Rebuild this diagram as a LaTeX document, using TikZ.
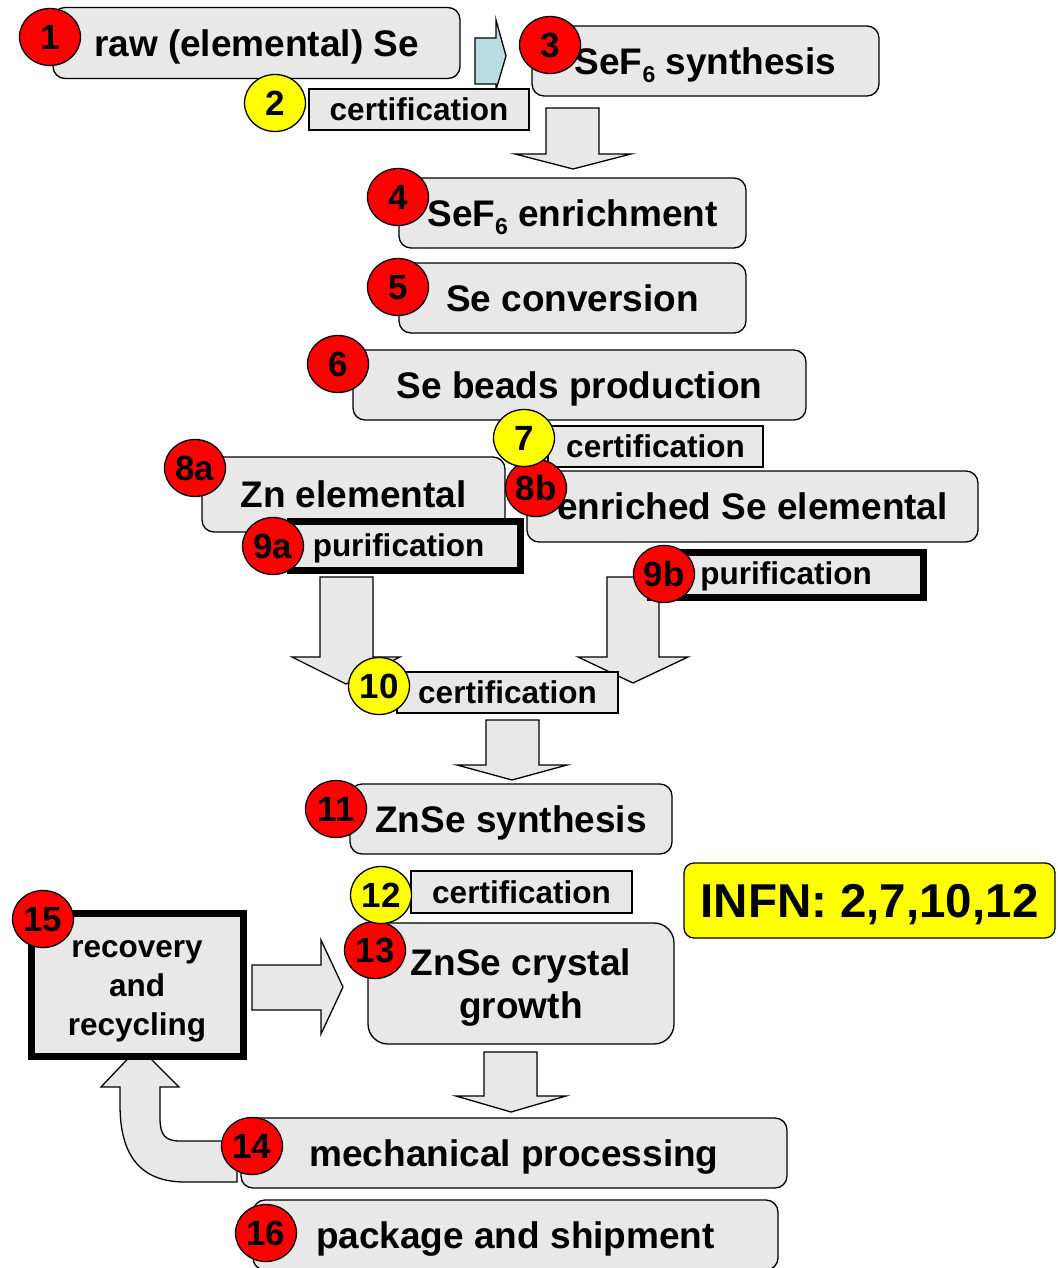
\documentclass[tikz,border=0pt]{standalone}
\usepackage{fontspec}
\setmainfont{Liberation Sans}
\usetikzlibrary{shapes.geometric}
\definecolor{boxgray}{RGB}{232,232,232}
\definecolor{badgered}{RGB}{255,0,0}
\definecolor{badgeyellow}{RGB}{255,255,0}
\definecolor{arrowcyan}{RGB}{185,222,226}
\newcommand\fbig{\fontsize{37}{44}\selectfont\bfseries}
\newcommand\fsmall{\fontsize{31.5}{39}\selectfont\bfseries}
\newcommand\fbadge{\fontsize{35}{35}\selectfont\bfseries}
\newcommand\finfn{\fontsize{47.5}{50}\selectfont\bfseries}
\newcommand\subsix{\raisebox{-8pt}{\fontsize{23}{23}\selectfont 6}}
\begin{document}
\begin{tikzpicture}[x=1pt,y=-1pt,
  box/.style={draw=black, line width=1.3pt, fill=boxgray, rounded corners=12pt, inner sep=0pt, text height=26.5pt, text depth=0pt, font=\fbig},
  cert/.style={draw=black, line width=1.3pt, fill=boxgray, inner sep=0pt, text height=22.5pt, text depth=0pt, font=\fsmall},
  thickbox/.style={draw=black, line width=7pt, fill=boxgray, inner sep=0pt},
  txtbig/.style={inner sep=0pt, anchor=base, font=\fbig},
  txtsmall/.style={inner sep=0pt, anchor=base, font=\fsmall},
  badge/.style={ellipse, draw=black, line width=1.3pt, minimum width=61pt, minimum height=57pt, inner sep=0pt, font=\fbadge, text height=25pt, text depth=0pt},
  redb/.style={badge, fill=badgered},
  yelb/.style={badge, fill=badgeyellow},
  blockarrow/.style={draw=black, line width=1.3pt, fill=boxgray, line join=miter},
]
\useasboundingbox (0,0) rectangle (1057,1268);
\clip (0,0) rectangle (1057,1268);

% ---------- block arrows ----------
\draw[blockarrow, fill=arrowcyan] (475,38) -- (496,38) -- (496,20) -- (506,56) -- (496,90) -- (496,84) -- (475,84) -- cycle;
\draw[blockarrow] (546,108) -- (599,108) -- (599,154) -- (631,154) -- (573,169) -- (515,154) -- (546,154) -- cycle;
\draw[blockarrow] (320,577) -- (373,577) -- (373,657) -- (400,657) -- (346,684) -- (292,657) -- (320,657) -- cycle;
\draw[blockarrow] (607,577) -- (659,577) -- (659,657) -- (688,657) -- (633,683) -- (578,657) -- (607,657) -- cycle;
\draw[blockarrow] (486,720) -- (539,720) -- (539,765) -- (567,765) -- (512,780) -- (457,765) -- (486,765) -- cycle;
\draw[blockarrow] (484,1052) -- (537,1052) -- (537,1096) -- (566,1096) -- (511,1112) -- (456,1096) -- (484,1096) -- cycle;
\draw[blockarrow] (252,965) -- (321,965) -- (321,940) -- (343,987) -- (321,1034) -- (321,1010) -- (252,1010) -- cycle;
\draw[blockarrow] (139,1047) -- (179,1087) -- (160,1087) -- (160,1118) .. controls (160,1135) and (165,1141) .. (180,1141) -- (237,1141) -- (237,1182) -- (185,1182) .. controls (140,1182) and (120,1155) .. (120,1105) -- (120,1087) -- (101,1087) -- cycle;

% ---------- process boxes ----------
\node[box, minimum width=407pt, minimum height=71pt] (b1) at (256.5,43) {raw (elemental) Se};
\node[box, minimum width=347pt, minimum height=70pt] (b3) at (705.5,61) {SeF\subsix{} synthesis};
\node[box, minimum width=347pt, minimum height=70pt] (b4) at (572.5,213) {SeF\subsix{} enrichment};
\node[box, minimum width=347pt, minimum height=70pt] (b5) at (572.5,298) {Se conversion};
\node[box, minimum width=453pt, minimum height=70pt] (b6) at (579.5,385) {Se beads production};
\node[box, minimum width=303pt, minimum height=75pt] (b8a) at (353.5,494.5) {Zn elemental};
\node[box, minimum width=451pt, minimum height=71pt] (b8b) at (752.5,506.5) {enriched Se elemental};
\node[box, minimum width=322pt, minimum height=70pt] (b11) at (511,819) {ZnSe synthesis};
\node[box, rounded corners=20pt, minimum width=306pt, minimum height=121pt] (b13) at (521,983.5) {};
\node[txtbig] (t13a) at (521,975) {ZnSe crystal};
\node[txtbig] (t13b) at (521,1018) {growth};
\node[box, minimum width=546pt, minimum height=70pt] (b14) at (514,1153) {mechanical processing};
\node[box, minimum width=525pt, minimum height=70pt] (b16) at (515.5,1235) {package and shipment};
\node[box, fill=badgeyellow, rounded corners=10pt, minimum width=371pt, minimum height=75pt, font=\finfn, text height=34pt] (infn) at (869.5,900.5) {INFN: 2,7,10,12};

% ---------- certification / purification ----------
\node[cert, minimum width=220pt, minimum height=41pt] (c2) at (419,109.5) {certification};
\node[cert, minimum width=215pt, minimum height=41pt] (c7) at (655.5,446.5) {certification};
\node[cert, minimum width=221pt, minimum height=41pt] (c10) at (507.5,692.5) {certification};
\node[cert, minimum width=221pt, minimum height=42pt] (c12) at (521.5,892) {certification};
\node[thickbox, minimum width=230pt, minimum height=48.5pt] (p9a) at (405,545.75) {};
\node[txtsmall] (tp9a) at (398.5,556) {purification};
\node[thickbox, minimum width=273pt, minimum height=45pt] (p9b) at (786.5,574.5) {};
\node[txtsmall] (tp9b) at (786,584) {purification};
\node[thickbox, minimum width=212pt, minimum height=143pt] (b15) at (137,985) {};
\node[txtsmall] (t15a) at (137,957) {recovery};
\node[txtsmall] (t15b) at (137,996) {and};
\node[txtsmall] (t15c) at (137,1035) {recycling};

% ---------- badges ----------
\node[redb] (n1) at (50,37) {1};
\node[yelb] (n2) at (275,103) {2};
\node[redb] (n3) at (550,45) {3};
\node[redb] (n4) at (398,197) {4};
\node[redb] (n5) at (398,287) {5};
\node[redb] (n6) at (338,364) {6};
\node[redb] (n8b) at (536,488) {8b};
\node[yelb] (n7) at (524,438) {7};
\node[redb] (n8a) at (195,468) {8a};
\node[redb] (n9a) at (273,546) {9a};
\node[redb] (n9b) at (664,574) {9b};
\node[yelb] (n10) at (379,686) {10};
\node[redb] (n11) at (336,809) {11};
\node[redb] (n13) at (375,950) {13};
\node[yelb] (n12) at (381,895) {12};
\node[redb] (n14) at (252,1146) {14};
\node[redb] (n15) at (43,919) {15};
\node[redb] (n16) at (266,1233) {16};
\end{tikzpicture}
\end{document}
